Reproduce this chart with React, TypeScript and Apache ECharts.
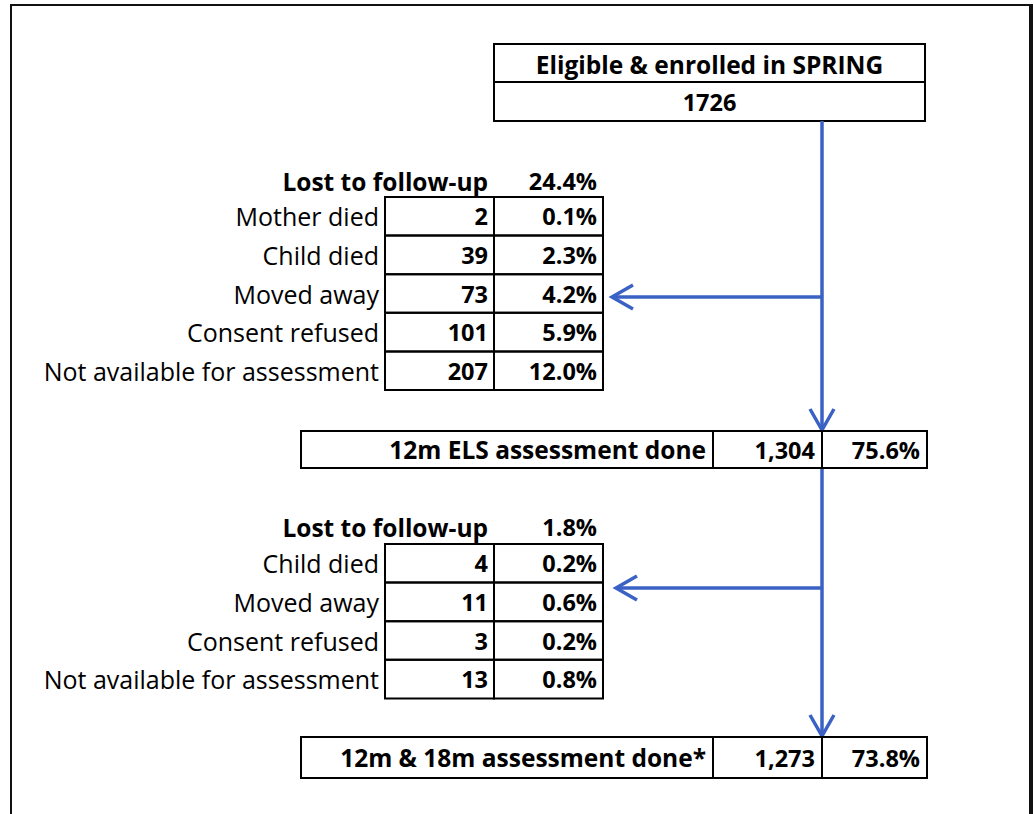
import React, { useEffect, useRef } from "react";
import * as echarts from "echarts";

const enrolTitle = "Eligible & enrolled in SPRING";
const enrolCount = "1726";

const lostHeader = "Lost to follow-up";
const lost1Total = "24.4%";
const lost1Reasons = ["Mother died", "Child died", "Moved away", "Consent refused", "Not available for assessment"];
const lost1Counts = ["2", "39", "73", "101", "207"];
const lost1Pcts = ["0.1%", "2.3%", "4.2%", "5.9%", "12.0%"];

const stage1Label = "12m ELS assessment done";
const stage1Count = "1,304";
const stage1Pct = "75.6%";

const lost2Total = "1.8%";
const lost2Reasons = ["Child died", "Moved away", "Consent refused", "Not available for assessment"];
const lost2Counts = ["4", "11", "3", "13"];
const lost2Pcts = ["0.2%", "0.6%", "0.2%", "0.8%"];

const stage2Label = "12m & 18m assessment done*";
const stage2Count = "1,273";
const stage2Pct = "73.8%";

const FONT = "'Open Sans', sans-serif";
const BLUE = "#3a62c4";
const FS_LABEL = 25;
const FS_BOLD = 24.5;
const FS_NUM = 23.5;

function txt(x: number, y: number, text: string, align: string, bold: boolean, size: number) {
  return {
    type: "text",
    x,
    y,
    style: {
      text,
      fill: "#000",
      font: `${bold ? "bold " : ""}${size}px ${FONT}`,
      textAlign: align,
      textVerticalAlign: "middle",
    },
  };
}

function box(x: number, y: number, w: number, h: number, lw = 2) {
  return {
    type: "rect",
    shape: { x, y, width: w, height: h },
    style: { fill: "none", stroke: "#000", lineWidth: lw },
  };
}

function vline(x: number, y1: number, y2: number, color = "#000", lw = 2) {
  return { type: "line", shape: { x1: x, y1, x2: x, y2 }, style: { stroke: color, lineWidth: lw } };
}

function lostTable(topHeaderY: number, tableTop: number, reasons: string[], counts: string[], pcts: string[], total: string) {
  const els: any[] = [];
  const rowH = 38.6;
  const xL = 385, xM = 494, xR = 603;
  els.push(txt(488, topHeaderY, lostHeader, "right", true, FS_BOLD));
  els.push(txt(597, topHeaderY, total, "right", true, FS_NUM));
  reasons.forEach((r, i) => {
    const y0 = tableTop + i * rowH;
    els.push(box(xL, y0, xM - xL, rowH));
    els.push(box(xM, y0, xR - xM, rowH));
    els.push(txt(379, y0 + rowH / 2, r, "right", false, FS_LABEL));
    els.push(txt(488, y0 + rowH / 2, counts[i], "right", true, FS_NUM));
    els.push(txt(597, y0 + rowH / 2, pcts[i], "right", true, FS_NUM));
  });
  return els;
}

function stageBox(y: number, h: number, label: string, count: string, pct: string) {
  const els: any[] = [];
  els.push(box(301, y, 713 - 301, h));
  els.push(box(713, y, 822 - 713, h));
  els.push(box(822, y, 927 - 822, h));
  els.push(txt(706, y + h / 2, label, "right", true, FS_BOLD));
  els.push(txt(815, y + h / 2, count, "right", true, FS_NUM));
  els.push(txt(920, y + h / 2, pct, "right", true, FS_NUM));
  return els;
}

function downArrow(x: number, y1: number, tip: number) {
  return [
    vline(x, y1, tip - 1, BLUE, 3.5),
    {
      type: "polyline",
      shape: { points: [[x - 12, tip - 21], [x, tip], [x + 12, tip - 21]] },
      style: { stroke: BLUE, lineWidth: 3.5, fill: "none" },
    },
  ];
}

function leftArrow(y: number, x1: number, tip: number) {
  return [
    { type: "line", shape: { x1, y1: y, x2: tip + 1, y2: y }, style: { stroke: BLUE, lineWidth: 3.5 } },
    {
      type: "polyline",
      shape: { points: [[tip + 21, y - 12], [tip, y], [tip + 21, y + 12]] },
      style: { stroke: BLUE, lineWidth: 3.5, fill: "none" },
    },
  ];
}

export default function App() {
  const ref = useRef<HTMLDivElement>(null);
  useEffect(() => {
    document.body.style.margin = "0";
    const chart = echarts.init(ref.current!, null, { renderer: "svg" });
    const elements: any[] = [];
    // outer frame
    elements.push({ type: "rect", shape: { x: 0, y: 0, width: 1034, height: 814 }, style: { fill: "#fff" } });
    elements.push(vline(11, 4, 814, "#111", 2));
    elements.push({ type: "line", shape: { x1: 10, y1: 5, x2: 1031, y2: 5 }, style: { stroke: "#111", lineWidth: 2 } });
    elements.push(vline(1031, 4, 814, "#111", 4));

    // top box
    elements.push(box(494, 44, 431, 38));
    elements.push(box(494, 82, 431, 39));
    elements.push(txt(709.5, 64, enrolTitle, "center", true, FS_BOLD));
    elements.push(txt(709.5, 102, enrolCount, "center", true, FS_NUM));

    // arrows
    elements.push(...downArrow(822, 121, 430));
    elements.push(...leftArrow(297, 822, 612));
    elements.push(...downArrow(822, 468, 736));
    elements.push(...leftArrow(588, 822, 616));

    elements.push(...lostTable(181, 197, lost1Reasons, lost1Counts, lost1Pcts, lost1Total));
    elements.push(...stageBox(431, 37, stage1Label, stage1Count, stage1Pct));
    elements.push(...lostTable(527, 544, lost2Reasons, lost2Counts, lost2Pcts, lost2Total));
    elements.push(...stageBox(737, 41, stage2Label, stage2Count, stage2Pct));

    chart.setOption({ animation: false, graphic: { elements } });
    return () => chart.dispose();
  }, []);
  return <div ref={ref} style={{ width: 1034, height: 814 }} />;
}
